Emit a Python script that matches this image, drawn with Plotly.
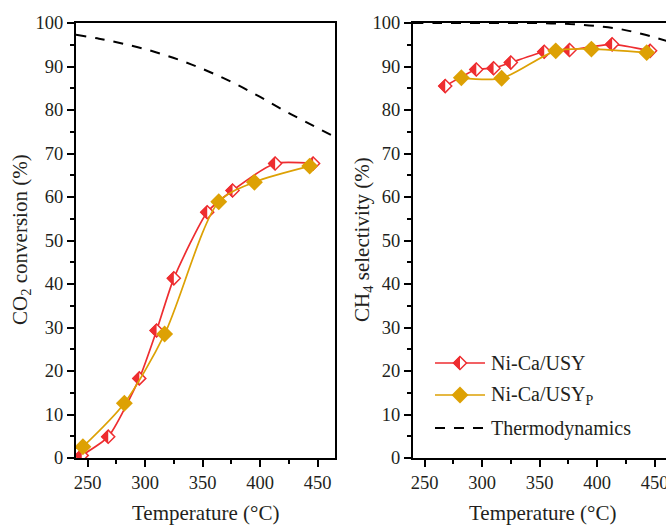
import plotly.graph_objects as go

# ---- data -------------------------------------------------------------
temp_usy = [245, 268, 295, 310, 325, 354, 376, 413, 446]
conv_usy = [0.6, 4.9, 18.3, 29.3, 41.3, 56.5, 61.5, 67.7, 67.7]
sel_usy = [None, 85.5, 89.3, 89.6, 90.9, 93.4, 93.8, 95.1, 93.6]

temp_usyp = [246, 282, 317, 364, 395, 443]
conv_usyp = [2.6, 12.6, 28.5, 58.9, 63.4, 67.1]
sel_usyp = [None, 87.4, 87.3, 93.6, 94.0, 93.2]

thermo_t = [240, 260, 280, 300, 320, 340, 360, 380, 400, 420, 440, 465]
thermo_conv = [97.3, 96.4, 95.3, 94.0, 92.4, 90.5, 88.3, 85.8, 83.0, 80.0, 77.2, 73.8]
thermo_sel = [100, 100, 100, 100, 100, 100, 99.9, 99.7, 99.3, 98.6, 97.4, 95.5]

names = ["Ni-Ca/USY", "Ni-Ca/USY<sub>P</sub>", "Thermodynamics"]
x_title = "Temperature (°C)"
y_titles = ["CO<sub>2</sub> conversion (%)", "CH<sub>4</sub> selectivity (%)"]

# ---- layout geometry (pixels) ----------------------------------------
W, H = 666, 525
FONT = "Liberation Serif"
RED = "#ee2d30"
GOLD = "#dda104"
INK = "#231f20"

plot_top, plot_bottom = 23, 458
left_x0, left_x1 = 76, 335
right_x0 = 413
x_range = [240, 465]
px_per_deg = (left_x1 - left_x0) / (x_range[1] - x_range[0])
right_range = [240, 240 + (W - right_x0) / px_per_deg]
px_per_pct = (plot_bottom - plot_top) / 100.0

RED_SIZE, RED_LW = 10, 1.5
GOLD_SIZE = 13


def px(x):
    return x / W


def py(y):
    return 1 - y / H


def half_diamonds(xs, ys):
    """Left-half fill of each diamond marker, as one polygon trace."""
    a = 0.65 * RED_SIZE + RED_LW / 2
    dx, dy = a / px_per_deg, a / px_per_pct
    px_, py_ = [], []
    for x, y in zip(xs, ys):
        if y is None:
            continue
        px_ += [x - dx, x, x, x - dx, None]
        py_ += [y, y + dy, y - dy, y, None]
    return px_, py_


fig = go.Figure()

panels = [
    ("x", "y", conv_usy, conv_usyp, thermo_conv),
    ("x2", "y2", sel_usy, sel_usyp, thermo_sel),
]
for xa, ya, red_vals, gold_vals, thermo_vals in panels:
    fig.add_trace(go.Scatter(
        x=thermo_t, y=thermo_vals, mode="lines", xaxis=xa, yaxis=ya,
        line=dict(color="black", width=2, dash="10px,9px", shape="spline"),
        showlegend=False, hoverinfo="skip"))
    fig.add_trace(go.Scatter(
        x=temp_usy, y=red_vals, mode="lines+markers", xaxis=xa, yaxis=ya,
        line=dict(color=RED, width=1.7, shape="spline", smoothing=0.6),
        marker=dict(symbol="diamond", size=RED_SIZE, color="white",
                    line=dict(color=RED, width=RED_LW)),
        showlegend=False))
    hx, hy = half_diamonds(temp_usy, red_vals)
    fig.add_trace(go.Scatter(
        x=hx, y=hy, mode="lines", fill="toself", fillcolor=RED,
        line=dict(width=0, color=RED), xaxis=xa, yaxis=ya,
        showlegend=False, hoverinfo="skip"))
    fig.add_trace(go.Scatter(
        x=temp_usyp, y=gold_vals, mode="lines+markers", xaxis=xa, yaxis=ya,
        line=dict(color=GOLD, width=1.7, shape="spline", smoothing=0.8),
        marker=dict(symbol="diamond", size=GOLD_SIZE, color=GOLD,
                    line=dict(width=0)),
        showlegend=False))

axis_common = dict(
    showline=True, linewidth=2, linecolor="black",
    ticks="outside", ticklen=7, tickwidth=1.5, tickcolor="black",
    showgrid=False, zeroline=False, automargin=False,
    ticklabeloverflow="allow",
    tickfont=dict(family=FONT, size=18.5, color=INK),
)
xa_common = dict(axis_common, dtick=50, tick0=250,
                 minor=dict(dtick=25, tick0=250, ticks="outside", ticklen=4,
                            tickwidth=1.5, tickcolor="black", showgrid=False))
ya_common = dict(axis_common, range=[0, 100], dtick=10, tick0=0,
                 minor=dict(dtick=5, tick0=0, ticks="outside", ticklen=4,
                            tickwidth=1.5, tickcolor="black", showgrid=False))

y_dom = [py(plot_bottom), py(plot_top)]
fig.update_layout(
    width=W, height=H,
    margin=dict(l=0, r=0, t=0, b=0),
    paper_bgcolor="white", plot_bgcolor="white",
    showlegend=False,
    xaxis=dict(xa_common, domain=[px(left_x0), px(left_x1)], range=x_range,
               anchor="y", mirror=True),
    yaxis=dict(ya_common, domain=y_dom, anchor="x", mirror=True),
    xaxis2=dict(xa_common, domain=[px(right_x0), 1.0], range=right_range,
                anchor="y2", mirror=True),
    yaxis2=dict(ya_common, domain=y_dom, anchor="x2", mirror=False),
)

# ---- axis titles --------------------------------------------------------
ann = []
ann.append(dict(text=x_title, x=px((left_x0 + left_x1) / 2), y=py(513)))
ann.append(dict(text=x_title, x=px(right_x0 + (left_x1 - left_x0) / 2), y=py(513)))
ann.append(dict(text=y_titles[0], x=px(21), y=py(240), textangle=-90))
ann.append(dict(text=y_titles[1], x=px(363), y=py(240), textangle=-90))
for a in ann:
    fig.add_annotation(xref="paper", yref="paper", showarrow=False,
                       xanchor="center", yanchor="middle",
                       font=dict(family=FONT, size=21, color=INK), **a)

# ---- legend (drawn inside the right panel) -----------------------------
leg_x0, leg_x1, leg_mid, leg_text = 435, 485, 460, 489
rows = [363, 395, 428]
fig.add_shape(type="line", xref="paper", yref="paper",
              x0=px(leg_x0), x1=px(leg_x1), y0=py(rows[0]), y1=py(rows[0]),
              line=dict(color=RED, width=1.7))
fig.add_shape(type="line", xref="paper", yref="paper",
              x0=px(leg_x0), x1=px(leg_x1), y0=py(rows[1]), y1=py(rows[1]),
              line=dict(color=GOLD, width=1.7))
fig.add_shape(type="line", xref="paper", yref="paper",
              x0=px(leg_x0), x1=px(leg_x1), y0=py(rows[2]), y1=py(rows[2]),
              line=dict(color="black", width=2, dash="10px,9px"))

r_out = 0.65 * RED_SIZE
r_half = r_out + RED_LW / 2
g_out = 0.65 * GOLD_SIZE
icons = [
    (rows[0], f"M-{r_out},0L0,{r_out}L{r_out},0L0,-{r_out}Z", "white", RED, RED_LW),
    (rows[0], f"M-{r_half},0L0,{r_half}L0,-{r_half}Z", RED, RED, 0),
    (rows[1], f"M-{g_out},0L0,{g_out}L{g_out},0L0,-{g_out}Z", GOLD, GOLD, 0),
]
for row, path, fill, lc, lw in icons:
    fig.add_shape(type="path", xref="paper", yref="paper",
                  xsizemode="pixel", ysizemode="pixel",
                  xanchor=px(leg_mid), yanchor=py(row), path=path,
                  fillcolor=fill, line=dict(color=lc, width=lw))

for row, name in zip(rows, names):
    fig.add_annotation(xref="paper", yref="paper", showarrow=False,
                       x=px(leg_text), y=py(row), xanchor="left", yanchor="middle",
                       text=name, font=dict(family=FONT, size=20, color=INK))

fig.write_html("out.html")
